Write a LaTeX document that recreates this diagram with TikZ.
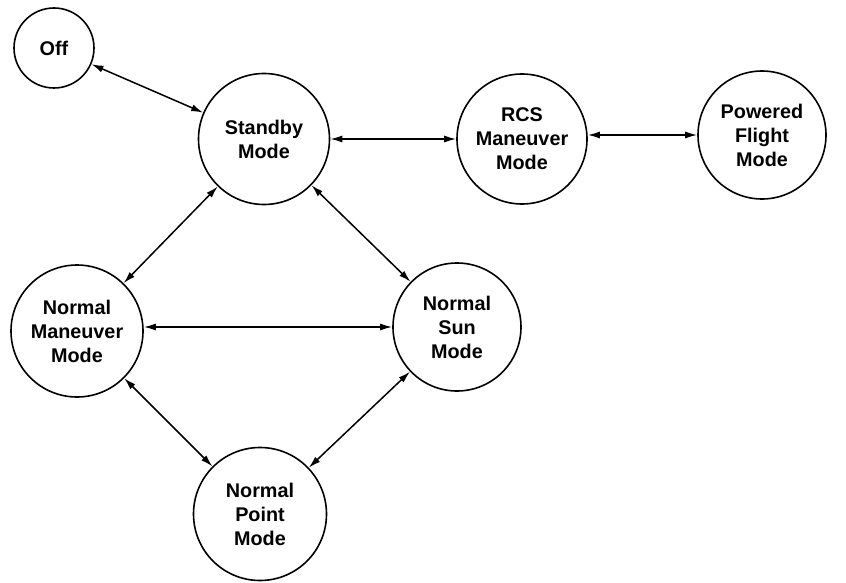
\documentclass[tikz,border=0pt]{standalone}
\usepackage{fontspec}
\setmainfont{Liberation Sans}
\usetikzlibrary{arrows.meta}
\begin{document}
\begin{tikzpicture}[x=1pt,y=-1pt,
  state/.style={circle,draw,line width=1.6pt,inner sep=0pt,align=center,
    font=\fontsize{19.8}{24}\selectfont\bfseries},
  link/.style={line width=1.5pt,{Latex[length=12pt,width=7pt]}-{Latex[length=12pt,width=7pt]}}]
\useasboundingbox (0,0) rectangle (846,583);
\node[state,minimum size=80pt] (off) at (54,48) {Off};
\node[state,minimum size=131pt] (stb) at (264,139) {Standby\\Mode};
\node[state,minimum size=130pt] (rcs) at (522,139) {RCS\\Maneuver\\Mode};
\node[state,minimum size=128pt] (pf) at (762,135) {Powered\\Flight\\Mode};
\node[state,minimum size=132pt] (nm) at (77,331) {Normal\\Maneuver\\Mode};
\node[state,minimum size=128pt] (ns) at (457,327) {Normal\\Sun\\Mode};
\node[state,minimum size=133pt] (np) at (260,514) {Normal\\Point\\Mode};
\draw[link] (off) -- (stb);
\draw[link] (stb) -- (rcs);
\draw[link] (rcs.east |- pf.west) -- (pf.west);
\draw[link] (stb) -- (nm);
\draw[link] (stb) -- (ns);
\draw[link] (nm.east |- ns.west) -- (ns.west);
\draw[link] (nm) -- (np);
\draw[link] (ns) -- (np);
\end{tikzpicture}
\end{document}
